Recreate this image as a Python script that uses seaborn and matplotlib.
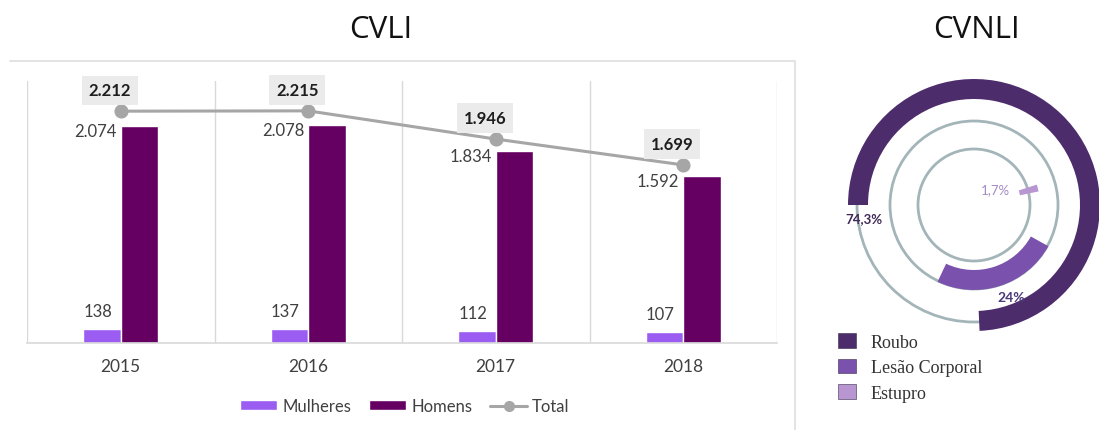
import numpy as np
import pandas as pd
import matplotlib
matplotlib.use("Agg")
import matplotlib.pyplot as plt
from matplotlib.patches import Patch, Circle
from matplotlib.lines import Line2D
import seaborn as sns

# ---- data ----
anos = ["2015", "2016", "2017", "2018"]
mulheres = [138, 137, 112, 107]
homens = [2074, 2078, 1834, 1592]
total = [2212, 2215, 1946, 1699]

cvnli_categorias = ["Roubo", "Lesão Corporal", "Estupro"]
cvnli_pct = [74.3, 24.0, 1.7]
cvnli_rotulos = ["74,3%", "24%", "1,7%"]

# ---- style ----
sns.set_theme(style="white")
plt.rcParams["font.family"] = ["Lato", "DejaVu Sans"]

COR_MULHERES = "#9b5cf2"
COR_HOMENS = "#650062"
COR_TOTAL = "#a6a6a6"
COR_GRADE = "#d9d9d9"
COR_TEXTO = "#404040"
CORES_CVNLI = ["#4d2c6c", "#7a51ad", "#b896d2"]
COR_TRILHA = "#a3b5b9"

W, H = 1099, 431
fig = plt.figure(figsize=(W / 100, H / 100), dpi=100)


def px_axes(x0, y0, x1, y1):
    """Axes from pixel box (top-left origin)."""
    return fig.add_axes([x0 / W, 1 - y1 / H, (x1 - x0) / W, (y1 - y0) / H])


# panel frame: top and right edges only
fig.add_artist(Line2D([10 / W, 795 / W, 795 / W],
                      [1 - 62 / H, 1 - 62 / H, 1 - 431 / H],
                      transform=fig.transFigure, color="#dedede", lw=1.2))

# ---- CVLI: bars + total line ----
ax = px_axes(27, 82, 777, 344)
df = pd.DataFrame({
    "ano": anos * 2,
    "sexo": ["Mulheres"] * 4 + ["Homens"] * 4,
    "valor": mulheres + homens,
})
sns.barplot(data=df, x="ano", y="valor", hue="sexo", order=anos,
            hue_order=["Mulheres", "Homens"],
            palette=[COR_MULHERES, COR_HOMENS], width=0.4, saturation=1,
            legend=False, ax=ax)
sns.pointplot(x=anos, y=total, order=anos, color=COR_TOTAL, markers="o",
              markersize=8.5, linewidth=2.2, errorbar=None, ax=ax, zorder=5)

ax.set_xlim(-0.5, 3.5)
ax.set_ylim(0, 2500)
ax.set_xlabel("")
ax.set_ylabel("")
ax.set_yticks([])
for s in ["top", "right", "left"]:
    ax.spines[s].set_visible(False)
ax.spines["bottom"].set_color(COR_GRADE)
ax.spines["bottom"].set_linewidth(1.2)
ax.set_xticks(np.arange(-0.5, 4.0, 1.0), minor=True)
ax.grid(True, which="minor", axis="x", color=COR_GRADE, lw=1.0)
ax.grid(False, which="major")
ax.tick_params(axis="x", which="both", length=0, pad=11,
               labelsize=12.5, labelcolor=COR_TEXTO)

# value labels
for i in range(len(anos)):
    ax.annotate(f"{total[i] / 1000:.3f}", (i, total[i]),
                xytext=(-11, 21), textcoords="offset pixels",
                ha="center", va="center", fontsize=12, fontweight="bold",
                color="#1e1e1e", zorder=6,
                bbox=dict(boxstyle="square,pad=0.4", fc="#ebebeb", ec="none"))
    ax.annotate(f"{homens[i] / 1000:.3f}", (i, homens[i]),
                xytext=(-4, -5), textcoords="offset pixels",
                ha="right", va="center", fontsize=12, color=COR_TEXTO)
    ax.annotate(f"{mulheres[i]}", (i - 0.1, mulheres[i]),
                xytext=(-4, 18), textcoords="offset pixels",
                ha="center", va="center", fontsize=12, color=COR_TEXTO)

handles = [
    Patch(facecolor=COR_MULHERES, label="Mulheres"),
    Patch(facecolor=COR_HOMENS, label="Homens"),
    Line2D([0], [0], color=COR_TOTAL, lw=2.2, marker="o", markersize=7,
           label="Total"),
]
fig.legend(handles=handles, loc="center", ncol=3, frameon=False,
           bbox_to_anchor=(405 / W, 1 - 407 / H), fontsize=12,
           handlelength=2.2, handleheight=0.55, handletextpad=0.3,
           columnspacing=1.1, labelcolor=COR_TEXTO)

fig.text(381 / W, 1 - 30 / H, "CVLI", ha="center", va="center",
         fontsize=22.5, family=["Open Sans", "DejaVu Sans"], color="#111111")
fig.text(977 / W, 1 - 30 / H, "CVNLI", ha="center", va="center",
         fontsize=22.5, family=["Open Sans", "DejaVu Sans"], color="#111111")

# ---- CVNLI: concentric rings ----
axd = px_axes(844, 76, 1104, 336)
axd.set_aspect("equal")
axd.axis("off")

trilhas = [117, 84, 56]                   # radius of each grey track
aneis = [(126, 20), (85, 20), (66, 19)]   # outer radius, thickness
inicios = [180, -29, 18]                  # start angle of each arc (clockwise)
for r in trilhas:
    axd.add_patch(Circle((0, 0), r, fill=False, ec=COR_TRILHA, lw=2.0,
                         zorder=1))
for (r_out, esp), ini, v, cor in zip(aneis, inicios, cvnli_pct, CORES_CVNLI):
    wedges, _ = axd.pie([v, 100 - v], radius=r_out, startangle=ini,
                        counterclock=False, colors=[cor, "none"],
                        wedgeprops=dict(width=esp, lw=0), normalize=True)
    for w in wedges:
        w.set_zorder(2)
axd.set_xlim(-130, 130)
axd.set_ylim(-130, 130)

axd.text(-110, -13, cvnli_rotulos[0], ha="center", va="center", fontsize=9.5,
         fontweight="bold", color="#3e2957", zorder=3)
axd.text(37, -92, cvnli_rotulos[1], ha="center", va="center", fontsize=10,
         fontweight="bold", color="#4a3a7a", zorder=3)
axd.text(21, 16, cvnli_rotulos[2], ha="center", va="center", fontsize=9.5,
         color="#a48ac6", zorder=3)

leg_handles = [Patch(facecolor=c, edgecolor="#3a2a4a", lw=0.4, label=l)
               for c, l in zip(CORES_CVNLI, cvnli_categorias)]
fig.legend(handles=leg_handles, loc="upper left", frameon=False,
           bbox_to_anchor=(822 / W, 1 - 318 / H),
           prop={"family": ["Liberation Serif", "DejaVu Serif"], "size": 13},
           handlelength=1.0, handleheight=0.85, handletextpad=0.8,
           labelspacing=0.45, labelcolor="#333333")

fig.savefig("out.png", dpi=100, facecolor="white")
